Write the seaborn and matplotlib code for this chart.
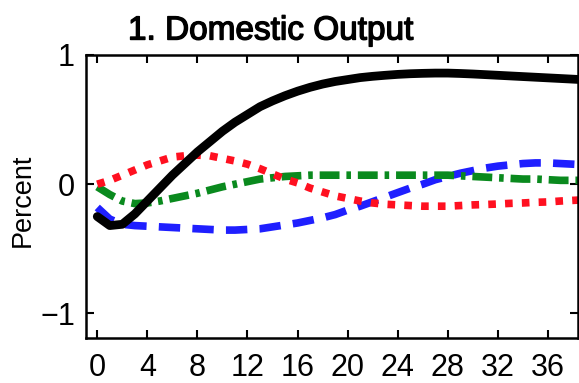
import matplotlib
matplotlib.use("Agg")
import matplotlib.pyplot as plt
import matplotlib.patheffects as pe
import seaborn as sns
import pandas as pd

quarters = list(range(40))
black_solid = [-0.25, -0.32, -0.31, -0.23, -0.13, -0.03, 0.07, 0.16, 0.25, 0.33,
               0.41, 0.48, 0.54, 0.60, 0.645, 0.685, 0.72, 0.75, 0.775, 0.795,
               0.81, 0.825, 0.835, 0.843, 0.85, 0.855, 0.858, 0.86, 0.86, 0.857,
               0.853, 0.848, 0.843, 0.838, 0.833, 0.828, 0.823, 0.818, 0.813, 0.808]
red_dotted = [0.0, 0.03, 0.07, 0.11, 0.15, 0.18, 0.21, 0.22, 0.225, 0.22,
              0.20, 0.18, 0.155, 0.12, 0.08, 0.04, 0.01, -0.03, -0.06, -0.09,
              -0.11, -0.13, -0.145, -0.155, -0.16, -0.165, -0.17, -0.17, -0.17, -0.165,
              -0.16, -0.157, -0.153, -0.148, -0.145, -0.14, -0.137, -0.13, -0.125, -0.12]
green_dashdot = [-0.02, -0.08, -0.13, -0.15, -0.145, -0.13, -0.11, -0.09, -0.07, -0.045,
                 -0.02, 0.0, 0.02, 0.04, 0.05, 0.06, 0.065, 0.07, 0.07, 0.07,
                 0.07, 0.07, 0.07, 0.07, 0.07, 0.07, 0.07, 0.07, 0.07, 0.065,
                 0.06, 0.055, 0.05, 0.045, 0.04, 0.04, 0.035, 0.03, 0.03, 0.03]
blue_dashed = [-0.18, -0.27, -0.31, -0.32, -0.325, -0.33, -0.335, -0.34, -0.345, -0.35,
               -0.355, -0.355, -0.35, -0.345, -0.33, -0.315, -0.30, -0.28, -0.26, -0.235,
               -0.20, -0.17, -0.135, -0.10, -0.065, -0.03, 0.0, 0.035, 0.06, 0.085,
               0.105, 0.125, 0.14, 0.15, 0.16, 0.165, 0.165, 0.16, 0.155, 0.15]
x_ticks = [0, 4, 8, 12, 16, 20, 24, 28, 32, 36]
y_ticks = [-1, 0, 1]
y_tick_labels = ["\u22121", "0", "1"]
title_text = "1. Domestic Output"
ylabel_text = "Percent"

sns.set_style("ticks")
plt.rcParams['font.family'] = ['Liberation Sans', 'DejaVu Sans']
plt.rcParams['text.color'] = 'black'

fig = plt.figure(figsize=(5.79, 3.83), dpi=100)
ax = fig.add_axes([86/579, 45/383, (578-86)/579, (338-55)/383])

df = pd.DataFrame({"q": quarters, "black": black_solid, "red": red_dotted,
                   "green": green_dashdot, "blue": blue_dashed})

lw = 5.5
sns.lineplot(data=df, x="q", y="blue", ax=ax, color="#1f1fff", lw=lw,
             linestyle=(0, (2.8, 1.6)), dash_capstyle="butt")
sns.lineplot(data=df, x="q", y="green", ax=ax, color="#0a8a1e", lw=lw,
             linestyle=(0, (2.6, 0.9, 0.6, 0.9)), dash_capstyle="butt")
sns.lineplot(data=df, x="q", y="red", ax=ax, color="#ff1020", lw=lw,
             linestyle=(0, (1.0, 1.2)), dash_capstyle="butt")
sns.lineplot(data=df, x="q", y="black", ax=ax, color="black", lw=lw + 0.8)

ax.set_xlim(-0.9, 38.4)
ax.set_ylim(-1.19, 1.0)
ax.set_xticks(x_ticks)
ax.set_yticks(y_ticks)
ax.set_yticklabels(y_tick_labels)
ax.set_xlabel("")
ax.set_ylabel("")
ax.tick_params(direction="in", length=6, width=1.5, top=True, right=True,
               labelsize=22, colors="black", labelcolor="black")
ax.tick_params(axis="x", pad=11)
ax.tick_params(axis="y", pad=8)
for s in ax.spines.values():
    s.set_linewidth(1.8)
    s.set_color("black")
    s.set_visible(True)
fig.text(23/579, 1 - 200/383, ylabel_text, fontsize=19.5, rotation=90,
         ha="center", va="center", color="black")
fig.text(128/579, 1 - 31/383, title_text, fontsize=24, color="black",
         ha="left", va="center",
         path_effects=[pe.withStroke(linewidth=1.0, foreground="black")])
fig.savefig("out.png", dpi=100)
